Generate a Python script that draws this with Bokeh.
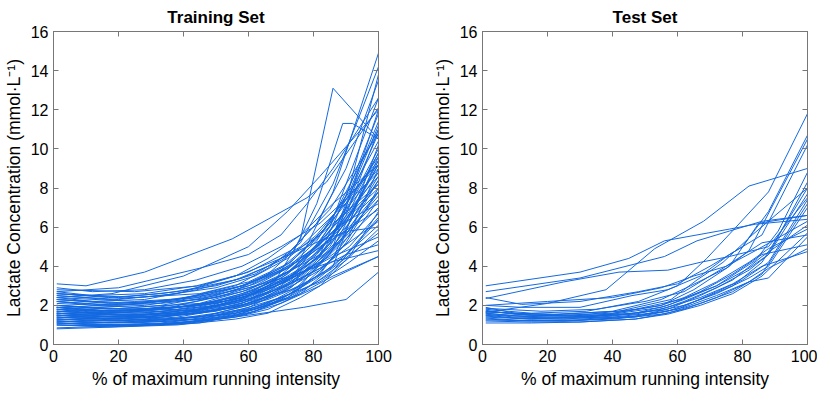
from bokeh.plotting import figure
from bokeh.layouts import row
from bokeh.models import Range1d, FixedTicker, LinearAxis, ColumnDataSource, CustomJSTickFormatter
from bokeh.embed import file_html
from bokeh.resources import INLINE

# ---------------- data ----------------
x_ticks = [0, 20, 40, 60, 80, 100]
y_ticks = [0, 2, 4, 6, 8, 10, 12, 14, 16]

G1 = [1, 20, 38, 56, 66, 76, 86, 100]
G2 = [1, 12, 28, 44, 58, 70, 82, 91, 100]
G3 = [1, 17, 33, 50, 62, 72, 81, 90, 100]
G4 = [1, 25, 45, 60, 73, 85, 100]

train_x = [
    [1, 10, 28, 55, 78, 84, 92, 100],
    [1, 20, 40, 58, 68, 76, 86, 100],
    [1, 18, 36, 54, 66, 74, 81, 89, 92, 100],
    [1, 20, 40, 60, 77, 90, 100],
    G1, G1, G1, G2, G3, G4, G1, G2, G3, G4, G1, G2, G3, G4, G1, G2, G3, G4,
    G1, G2, G3, G4, G1, G2, G3, G4, G1, G2, G3, G4, G1, G2, G3, G4, G1, G2,
    G3, G4, G1, G2, G3, G4, G1, G2, G3, G4, G1, G2, G3, G4, G1, G2, G3, G4,
    G1, G2, G3, G4, G1, G2, G3, G4,
    [1, 20, 45, 60, 70, 78, 86, 100],
    [1, 18, 40, 60, 72, 82, 100],
]
train_y = [
    [3.1, 3.0, 3.7, 5.4, 7.5, 8.3, 10.2, 12.1],
    [1.5, 1.3, 1.6, 2.3, 3.2, 5.4, 13.1, 10.5],
    [1.9, 1.7, 1.9, 2.6, 3.6, 4.8, 7.2, 11.3, 11.3, 10.5],
    [0.85, 0.95, 1.05, 1.5, 1.9, 2.3, 3.7],
    [0.8, 0.9, 1.0, 1.3, 1.6, 2.4, 3.4, 4.5],
    [1.6, 1.4, 1.6, 2.2, 3.0, 4.4, 7.8, 14.9],
    [2.2, 2.0, 2.3, 3.0, 3.9, 5.2, 8.2, 14.2],
    [1.3, 1.2, 1.3, 1.6, 2.1, 3.0, 4.6, 8.0, 13.8],
    [2.6, 2.4, 2.6, 3.0, 3.6, 4.6, 6.2, 9.0, 13.5],
    [1.7, 1.5, 1.7, 2.3, 3.4, 6.0, 12.6],
    [1.2, 1.1, 1.2, 1.6, 2.1, 3.0, 5.0, 12.0],
    [2.0, 1.9, 2.0, 2.4, 3.0, 3.9, 5.6, 7.8, 11.4],
    [1.5, 1.3, 1.4, 1.7, 2.2, 3.0, 4.3, 6.6, 11.0],
    [2.8, 2.7, 3.0, 3.7, 4.8, 6.9, 10.8],
    [1.0, 0.95, 1.05, 1.4, 1.8, 2.6, 4.0, 10.2],
    [1.8, 1.6, 1.7, 2.0, 2.6, 3.4, 4.8, 6.8, 9.8],
    [2.3, 2.1, 2.2, 2.6, 3.2, 4.1, 5.4, 7.2, 9.6],
    [1.4, 1.2, 1.3, 1.8, 2.6, 4.6, 9.4],
    [2.5, 2.3, 2.6, 3.5, 4.4, 5.6, 7.2, 9.2],
    [1.1, 1.0, 1.0, 1.2, 1.6, 2.3, 3.6, 5.6, 9.0],
    [1.9, 1.7, 1.8, 2.1, 2.6, 3.4, 4.6, 6.4, 8.8],
    [1.6, 1.5, 1.8, 2.6, 3.8, 5.8, 8.6],
    [1.3, 1.2, 1.4, 1.9, 2.5, 3.4, 5.0, 8.4],
    [2.4, 2.2, 2.3, 2.8, 3.4, 4.3, 5.6, 6.9, 8.2],
    [1.0, 0.9, 1.0, 1.3, 1.7, 2.4, 3.5, 5.2, 8.0],
    [2.1, 1.9, 2.1, 2.8, 3.8, 5.4, 7.8],
    [1.7, 1.5, 1.6, 2.0, 2.6, 3.5, 4.9, 7.6],
    [1.4, 1.3, 1.4, 1.6, 2.0, 2.7, 3.8, 5.3, 7.4],
    [2.0, 1.8, 2.0, 2.5, 3.1, 3.9, 5.0, 6.3, 7.2],
    [1.2, 1.1, 1.3, 1.9, 2.9, 4.6, 7.0],
    [2.3, 2.1, 2.3, 2.9, 3.5, 4.3, 5.4, 6.9],
    [1.6, 1.5, 1.5, 1.8, 2.2, 2.9, 3.9, 5.0, 6.7],
    [1.3, 1.2, 1.3, 1.5, 1.9, 2.5, 3.4, 4.6, 6.5],
    [1.9, 1.8, 2.0, 2.6, 3.4, 4.5, 6.3],
    [1.5, 1.4, 1.5, 1.9, 2.3, 3.0, 4.0, 6.1],
    [2.7, 2.5, 2.6, 3.0, 3.6, 4.4, 5.3, 5.8, 6.0],
    [1.1, 1.0, 1.1, 1.4, 1.8, 2.4, 3.2, 4.3, 5.9],
    [1.5, 1.4, 1.6, 2.1, 2.8, 3.8, 5.7],
    [2.0, 1.8, 1.9, 2.3, 2.8, 3.6, 4.5, 5.5],
    [1.2, 1.1, 1.2, 1.4, 1.8, 2.4, 3.2, 4.2, 5.3],
    [1.7, 1.6, 1.7, 2.0, 2.4, 3.0, 3.8, 4.6, 5.1],
    [2.4, 2.2, 2.4, 2.9, 3.5, 4.2, 4.8],
    [1.4, 1.3, 1.3, 1.6, 2.0, 2.6, 3.5, 4.5],
    [1.9, 1.7, 1.8, 2.2, 2.7, 3.5, 4.6, 6.2, 8.6],
    [1.6, 1.4, 1.6, 2.0, 2.6, 3.6, 5.0, 7.4, 10.4],
    [1.8, 1.6, 1.8, 2.4, 3.3, 5.0, 9.2],
    [1.1, 1.0, 1.1, 1.5, 2.0, 2.9, 4.4, 9.6],
    [2.2, 2.0, 2.1, 2.5, 3.0, 3.8, 5.1, 7.2, 10.0],
    [1.4, 1.3, 1.4, 1.8, 2.3, 3.1, 4.2, 5.8, 7.8],
    [2.0, 1.8, 2.0, 2.6, 3.5, 4.8, 7.4],
    [1.8, 1.7, 1.8, 2.3, 2.9, 3.9, 5.6, 9.8],
    [1.5, 1.4, 1.4, 1.7, 2.3, 3.2, 4.5, 6.5, 9.2],
    [2.2, 2.0, 2.1, 2.4, 3.0, 3.9, 5.3, 7.6, 11.8],
    [1.3, 1.2, 1.4, 2.0, 3.0, 5.2, 10.8],
    [2.6, 2.4, 2.7, 3.3, 4.0, 5.0, 6.6, 8.8],
    [1.0, 0.95, 1.0, 1.2, 1.5, 2.1, 3.0, 4.5, 6.8],
    [2.5, 2.3, 2.5, 2.9, 3.5, 4.4, 5.6, 7.4, 9.4],
    [1.1, 1.0, 1.1, 1.6, 2.4, 3.6, 6.4],
    [1.9, 1.7, 1.9, 2.4, 3.1, 4.1, 5.8, 8.2],
    [2.9, 2.7, 2.8, 3.3, 4.0, 5.0, 6.2, 7.6, 9.2],
    [1.8, 1.6, 1.8, 2.2, 2.8, 3.7, 5.0, 6.9, 9.0],
    [2.3, 2.1, 2.3, 3.0, 4.0, 5.6, 8.0],
    [1.6, 1.5, 1.6, 2.1, 2.7, 3.8, 5.6, 11.2],
    [1.7, 1.6, 1.6, 1.9, 2.4, 3.1, 4.2, 5.7, 7.8],
    [1.2, 1.1, 1.2, 1.6, 2.1, 2.8, 3.9, 5.6, 8.4],
    [2.6, 2.4, 2.6, 3.2, 4.2, 6.2, 11.0],
    [2.7, 2.9, 3.9, 4.6, 5.6, 7.2, 9.0, 12.6],
    [2.4, 2.6, 3.5, 5.0, 6.8, 8.6, 12.0],
]

H1 = [1, 10, 25, 40, 55, 62, 72, 82, 88, 100]
H2 = [1, 15, 30, 47, 57, 67, 77, 86, 100]

test_x = [
    [1, 30, 45, 56, 66, 76, 84, 100],
    [1, 30, 56, 66, 76, 86, 100],
    [1, 12, 30, 48, 60, 70, 80, 88, 100],
    [1, 25, 42, 57, 67, 76, 88, 100],
    [1, 20, 38, 53, 68, 82, 100],
    [1, 15, 32, 48, 60, 69, 78, 88, 100],
    [1, 12, 30, 46, 57, 67, 76, 86, 100],
    [1, 15, 30, 47, 61, 72, 84, 91, 100],
    H1, H2, H1, H2, H1, H2, H1, H2, H1, H2, H1, H2,
    [1, 20, 40, 55, 65, 75, 84, 100],
    [1, 18, 35, 50, 62, 74, 86, 100],
    [1, 20, 40, 55, 64, 75, 82, 100],
    [1, 25, 45, 60, 72, 80, 88, 100],
    [1, 15, 35, 55, 65, 76, 85, 100],
    [1, 22, 42, 58, 66, 74, 83, 100],
]
test_y = [
    [3.0, 3.7, 4.4, 5.3, 5.6, 5.9, 6.15, 6.4],
    [2.7, 3.4, 4.5, 5.3, 5.8, 6.3, 6.6],
    [2.4, 2.05, 2.2, 2.7, 3.1, 4.0, 5.0, 6.8, 10.7],
    [2.35, 3.2, 3.7, 3.8, 4.2, 4.5, 5.0, 7.5],
    [1.65, 2.1, 2.8, 4.9, 6.3, 8.1, 9.0],
    [1.8, 1.6, 1.7, 2.2, 3.0, 4.4, 6.0, 7.8, 11.8],
    [2.0, 1.9, 1.9, 2.5, 2.8, 3.5, 4.6, 5.6, 10.2],
    [1.7, 1.5, 1.5, 1.8, 2.3, 3.0, 4.3, 5.8, 8.8],
    [1.5, 1.35, 1.3, 1.45, 1.8, 2.2, 2.9, 3.8, 4.6, 8.3],
    [1.3, 1.2, 1.25, 1.4, 1.7, 2.3, 3.0, 4.2, 8.0],
    [1.75, 1.55, 1.45, 1.55, 1.9, 2.3, 3.0, 3.9, 4.6, 7.7],
    [1.2, 1.15, 1.15, 1.3, 1.6, 2.1, 2.7, 3.6, 7.2],
    [1.6, 1.45, 1.4, 1.5, 1.75, 2.0, 2.6, 3.4, 4.0, 7.0],
    [1.45, 1.3, 1.3, 1.45, 1.8, 2.5, 3.3, 4.5, 6.1],
    [1.9, 1.6, 1.5, 1.6, 2.0, 2.4, 3.2, 4.2, 4.9, 5.9],
    [1.1, 1.1, 1.15, 1.3, 1.55, 2.0, 2.6, 3.5, 5.7],
    [1.55, 1.4, 1.35, 1.4, 1.65, 1.9, 2.5, 3.2, 3.4, 5.5],
    [1.7, 1.5, 1.45, 1.6, 2.0, 2.7, 3.6, 4.6, 5.1],
    [1.35, 1.25, 1.2, 1.3, 1.55, 1.8, 2.4, 3.2, 3.9, 4.9],
    [1.6, 1.4, 1.4, 1.55, 1.9, 2.4, 3.1, 4.0, 4.75],
    [2.0, 2.2, 2.4, 2.9, 3.5, 4.0, 4.8, 6.3],
    [1.85, 1.7, 1.8, 2.2, 2.7, 3.9, 5.2, 5.6],
    [1.5, 1.5, 1.7, 2.3, 3.0, 3.9, 4.8, 10.5],
    [1.25, 1.2, 1.4, 1.8, 2.7, 3.3, 4.2, 7.4],
    [1.4, 1.3, 1.45, 2.0, 2.8, 4.0, 6.2, 6.6],
    [1.65, 1.55, 1.7, 2.3, 3.3, 4.2, 5.6, 8.0],
]

titles = ["Training Set", "Test Set"]
x_label = "% of maximum running intensity"
y_label = "Lactate Concentration (mmol\u00b7L\u207b\u00b9)"

# ---------------- styling ----------------
LINE = "#1469e0"
FRAME = "#777777"
FONT = "Liberation Sans"


def make_panel(title, xs, ys, right_border):
    p = figure(
        output_backend="svg", toolbar_location=None,
        frame_width=325, frame_height=313,
        x_range=Range1d(0, 100), y_range=Range1d(0, 16),
        min_border_left=47, min_border_right=right_border,
        min_border_top=23, min_border_bottom=45,
        background_fill_color="white", border_fill_color="white",
    )
    p.title.text = title
    p.title.align = "center"
    p.title.text_font = FONT
    p.title.text_font_size = "17px"
    p.title.text_font_style = "bold"
    p.title.text_color = "black"
    p.title.standoff = 10
    p.title.offset = 0
    p.grid.visible = False
    p.outline_line_color = FRAME

    src = ColumnDataSource(dict(xs=xs, ys=ys))
    p.multi_line("xs", "ys", source=src, line_color=LINE, line_width=1)

    for ax in (p.xaxis[0], p.yaxis[0]):
        ax.axis_line_color = FRAME
        ax.major_tick_line_color = FRAME
        ax.major_tick_in = 5
        ax.major_tick_out = 0
        ax.minor_tick_line_color = None
        ax.major_label_text_font = FONT
        ax.major_label_text_font_size = "16px"
        ax.major_label_text_color = "black"
        ax.axis_label_text_font = FONT
        ax.axis_label_text_font_size = "17.5px"
        ax.axis_label_text_font_style = "normal"
        ax.axis_label_text_color = "black"
        ax.major_label_standoff = 5
        ax.axis_label_standoff = 4
    p.xaxis[0].ticker = FixedTicker(ticks=x_ticks)
    p.yaxis[0].ticker = FixedTicker(ticks=y_ticks)
    p.xaxis[0].axis_label = x_label
    p.yaxis[0].axis_label = y_label

    blank = CustomJSTickFormatter(code="return ''")
    top = LinearAxis(ticker=FixedTicker(ticks=x_ticks), formatter=blank)
    right = LinearAxis(ticker=FixedTicker(ticks=y_ticks), formatter=blank)
    for ax in (top, right):
        ax.axis_line_color = FRAME
        ax.major_tick_line_color = FRAME
        ax.major_tick_in = 5
        ax.major_tick_out = 0
        ax.minor_tick_line_color = None
        ax.major_label_standoff = 0
    p.add_layout(top, "above")
    p.add_layout(right, "right")
    return p


p1 = make_panel(titles[0], train_x, train_y, 51)
p2 = make_panel(titles[1], test_x, test_y, 10)

layout = row(p1, p2)
open("out.html", "w").write(file_html(layout, INLINE))
